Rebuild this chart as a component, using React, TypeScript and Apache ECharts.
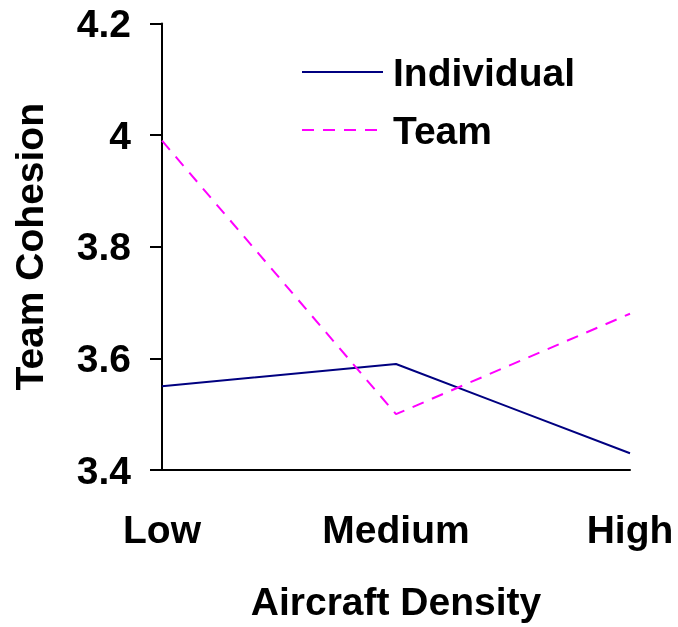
import React, { useEffect, useRef } from "react";
import * as echarts from "echarts";

const categories = ["Low", "Medium", "High"];
const individualValues = [3.55, 3.59, 3.43];
const teamValues = [3.99, 3.5, 3.68];
const seriesNames = ["Individual", "Team"];

const FONT = "'Liberation Sans', Arial, sans-serif";
const FS = 39;

export default function App() {
  const ref = useRef<HTMLDivElement>(null);
  useEffect(() => {
    if (!ref.current) return;
    const chart = echarts.init(ref.current, undefined, { renderer: "svg" });
    chart.setOption({
      animation: false,
      textStyle: { fontFamily: FONT },
      grid: {
        left: 162,
        right: 48,
        top: 23.5,
        bottom: 157,
        containLabel: false,
        outerBoundsMode: "none",
      },
      legend: {
        orient: "vertical",
        left: 301,
        top: 52.5,
        padding: 0,
        itemWidth: 81,
        itemHeight: 14,
        itemGap: 19,
        data: seriesNames,
        itemStyle: { opacity: 0 },
        textStyle: {
          fontFamily: FONT,
          fontSize: FS,
          fontWeight: "bold",
          color: "#000",
          lineHeight: 39,
          padding: [0, 0, 0, 5],
        },
      },
      xAxis: {
        type: "category",
        data: categories,
        boundaryGap: false,
        name: "Aircraft Density",
        nameLocation: "middle",
        nameGap: 112,
        nameTextStyle: { fontFamily: FONT, fontSize: FS, fontWeight: "bold", color: "#000", lineHeight: 39 },
        axisLine: { lineStyle: { color: "#000", width: 2 } },
        axisTick: { show: false },
        axisLabel: { fontFamily: FONT, fontSize: FS, fontWeight: "bold", color: "#000", margin: 40, lineHeight: 39 },
        splitLine: { show: false },
      },
      yAxis: {
        type: "value",
        min: 3.4,
        max: 4.2,
        interval: 0.2,
        name: "Team Cohesion",
        nameLocation: "middle",
        nameGap: 113,
        nameTextStyle: { fontFamily: FONT, fontSize: FS, fontWeight: "bold", color: "#000", lineHeight: 39 },
        axisLine: { show: true, lineStyle: { color: "#000", width: 2 } },
        axisTick: { show: true, length: 12, lineStyle: { color: "#000", width: 2 } },
        axisLabel: {
          fontFamily: FONT,
          fontSize: FS,
          fontWeight: "bold",
          color: "#000",
          margin: 31,
          formatter: (v: number) => String(Math.round(v * 10) / 10),
        },
        splitLine: { show: false },
      },
      series: [
        {
          name: seriesNames[0],
          type: "line",
          data: individualValues,
          symbol: "none",
          lineStyle: { color: "#000080", width: 2 },
          itemStyle: { color: "#000080" },
        },
        {
          name: seriesNames[1],
          type: "line",
          data: teamValues,
          symbol: "none",
          lineStyle: { color: "#FF00FF", width: 2, type: [12, 9] },
          itemStyle: { color: "#FF00FF" },
        },
      ],
    });
    return () => chart.dispose();
  }, []);
  return (
    <div
      ref={ref}
      style={{ position: "fixed", left: 0, top: 0, width: 678, height: 627 }}
    />
  );
}
